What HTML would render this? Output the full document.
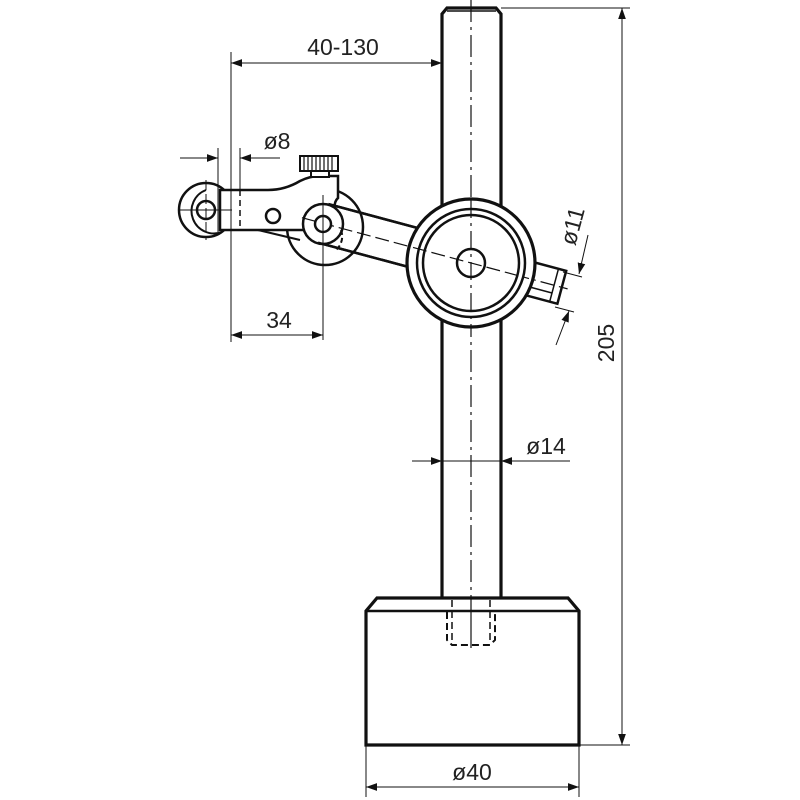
<!DOCTYPE html>
<html><head><style>body{margin:0;background:#fff}svg{display:block}text{font-family:"Liberation Sans",sans-serif;fill:#222}</style></head><body>
<svg width="800" height="800" viewBox="0 0 800 800" xmlns="http://www.w3.org/2000/svg">
<defs>
<marker id="a" viewBox="0 0 10 10" refX="10" refY="5" markerWidth="11" markerHeight="11" markerUnits="userSpaceOnUse" orient="auto-start-reverse"><path d="M0,1.5 L10,5 L0,8.5z" fill="#111"/></marker>
</defs>
<g stroke="#111" fill="none">
<path d="M442,598 V14 L447,8 H496 L501,14 V598" stroke-width="3.2" fill="#fff"/>
<line x1="447" y1="11" x2="496" y2="11" stroke-width="1.5"/>
<line x1="471" y1="0" x2="471" y2="598" stroke-width="1.2" stroke-dasharray="22,5,3,5"/>
<path d="M366,745 V611 L377,598 H568 L579,611 V745 Z" stroke-width="3.2" fill="#fff"/>
<line x1="366" y1="611" x2="579" y2="611" stroke-width="2.5"/>
<path d="M447,612 V640 L452,645 H490 L495,640 V612" stroke-width="2" stroke-dasharray="7,4"/>
<line x1="452" y1="600" x2="452" y2="640" stroke-width="1.5" stroke-dasharray="7,4"/>
<line x1="490" y1="600" x2="490" y2="640" stroke-width="1.5" stroke-dasharray="7,4"/>
<line x1="471" y1="598" x2="471" y2="648" stroke-width="1.2"/>
<circle cx="325" cy="227" r="38" stroke-width="2.5" fill="#fff"/>
<circle cx="206" cy="210" r="27" stroke-width="2.5" fill="#fff"/>
<path d="M222,232 A20,20 0 0 1 206,190" stroke-width="2"/>
<circle cx="206" cy="210" r="9" stroke-width="2.5" fill="#fff"/>
<path d="M220,190 H268 Q285,190 300,181 Q310,176 320,176 H338 V198 Q330,205 340,230 H290 L250,230 H220 Z" stroke-width="2.5" fill="#fff"/>
<line x1="258" y1="230" x2="300" y2="240" stroke-width="2"/>
<circle cx="273" cy="216" r="7" stroke-width="2.5"/>
<line x1="240" y1="190" x2="240" y2="230" stroke-width="1.5" stroke-dasharray="6,4"/>
<rect x="300" y="156" width="38" height="15" stroke-width="2" fill="#fff"/>
<path d="M304,157V170M308,157V170M312,157V170M316,157V170M320,157V170M324,157V170M328,157V170M332,157V170" stroke-width="1.2"/>
<rect x="311" y="171" width="18" height="6" stroke-width="2" fill="#fff"/>
<g transform="translate(471,263) rotate(15)">
<path d="M-153,-20 H-40 M-153,20 H-40" stroke-width="2.5"/>
<rect x="40" y="-17" width="54" height="34" stroke-width="2.5" fill="#fff"/>
<line x1="86" y1="-17" x2="86" y2="17" stroke-width="1.5"/>
<line x1="60" y1="8" x2="86" y2="8" stroke-width="1.5"/>
</g>
<circle cx="323" cy="224" r="20" stroke-width="2.5" fill="#fff"/>
<g transform="translate(471,263) rotate(15)">
<path d="M-153,-20 H-60 M-153,20 H-60" stroke-width="2.5"/>
<line x1="-175" y1="0" x2="100" y2="0" stroke-width="1.2" stroke-dasharray="14,5"/>
</g>
<path d="M341,230 A18,18 0 0 1 336,250" stroke-width="2" stroke-dasharray="5,3"/>
<circle cx="323" cy="224" r="8" stroke-width="2.5" fill="#fff"/>
<circle cx="471" cy="263" r="64" stroke-width="3.2" fill="#fff"/>
<circle cx="471" cy="263" r="54" stroke-width="2.5"/>
<circle cx="471" cy="263" r="48" stroke-width="2.5"/>
<circle cx="471" cy="263" r="14" stroke-width="2.5"/>
<line x1="471" y1="200" x2="471" y2="326" stroke-width="1.2" stroke-dasharray="18,5,3,5"/>
<g transform="translate(471,263) rotate(15)"><line x1="-60" y1="0" x2="60" y2="0" stroke-width="1.2" stroke-dasharray="14,5"/></g>
<line x1="180" y1="210" x2="232" y2="210" stroke-width="1"/>
<line x1="206" y1="180" x2="206" y2="240" stroke-width="1" stroke-dasharray="10,4"/>
<line x1="323" y1="195" x2="323" y2="340" stroke-width="1"/>
<line x1="231" y1="52" x2="231" y2="342" stroke-width="1"/>
<line x1="231" y1="63" x2="442" y2="63" stroke-width="1" marker-start="url(#a)" marker-end="url(#a)"/>
<line x1="231" y1="335" x2="323" y2="335" stroke-width="1" marker-start="url(#a)" marker-end="url(#a)"/>
<line x1="218" y1="148" x2="218" y2="232" stroke-width="1"/>
<line x1="240" y1="148" x2="240" y2="190" stroke-width="1"/>
<line x1="180" y1="158" x2="218" y2="158" stroke-width="1" marker-end="url(#a)"/>
<line x1="280" y1="158" x2="240" y2="158" stroke-width="1" marker-end="url(#a)"/>
<line x1="412" y1="461" x2="442" y2="461" stroke-width="1" marker-end="url(#a)"/>
<line x1="570" y1="461" x2="501" y2="461" stroke-width="1" marker-end="url(#a)"/>
<line x1="442" y1="461" x2="501" y2="461" stroke-width="1"/>
<line x1="501" y1="8" x2="630" y2="8" stroke-width="1"/>
<line x1="579" y1="745" x2="630" y2="745" stroke-width="1"/>
<line x1="622" y1="8" x2="622" y2="745" stroke-width="1" marker-start="url(#a)" marker-end="url(#a)"/>
<line x1="366" y1="745" x2="366" y2="797" stroke-width="1"/>
<line x1="579" y1="745" x2="579" y2="797" stroke-width="1"/>
<line x1="366" y1="787" x2="579" y2="787" stroke-width="1" marker-start="url(#a)" marker-end="url(#a)"/>
<line x1="563" y1="272" x2="582" y2="277" stroke-width="1"/>
<line x1="555" y1="307" x2="574" y2="312" stroke-width="1"/>
<line x1="588" y1="235" x2="579" y2="274" stroke-width="1" marker-end="url(#a)"/>
<line x1="556" y1="345" x2="569" y2="311" stroke-width="1" marker-end="url(#a)"/>
</g>
<g font-size="23">
<text x="343" y="55" text-anchor="middle">40-130</text>
<text x="277" y="149" text-anchor="middle">ø8</text>
<text x="279" y="328" text-anchor="middle">34</text>
<text x="546" y="454" text-anchor="middle">ø14</text>
<text x="472" y="780" text-anchor="middle">ø40</text>
<text transform="translate(614,343) rotate(-90)" text-anchor="middle">205</text>
<text transform="translate(580,228) rotate(-75)" text-anchor="middle">ø11</text>
</g>
</svg>
</body></html>
